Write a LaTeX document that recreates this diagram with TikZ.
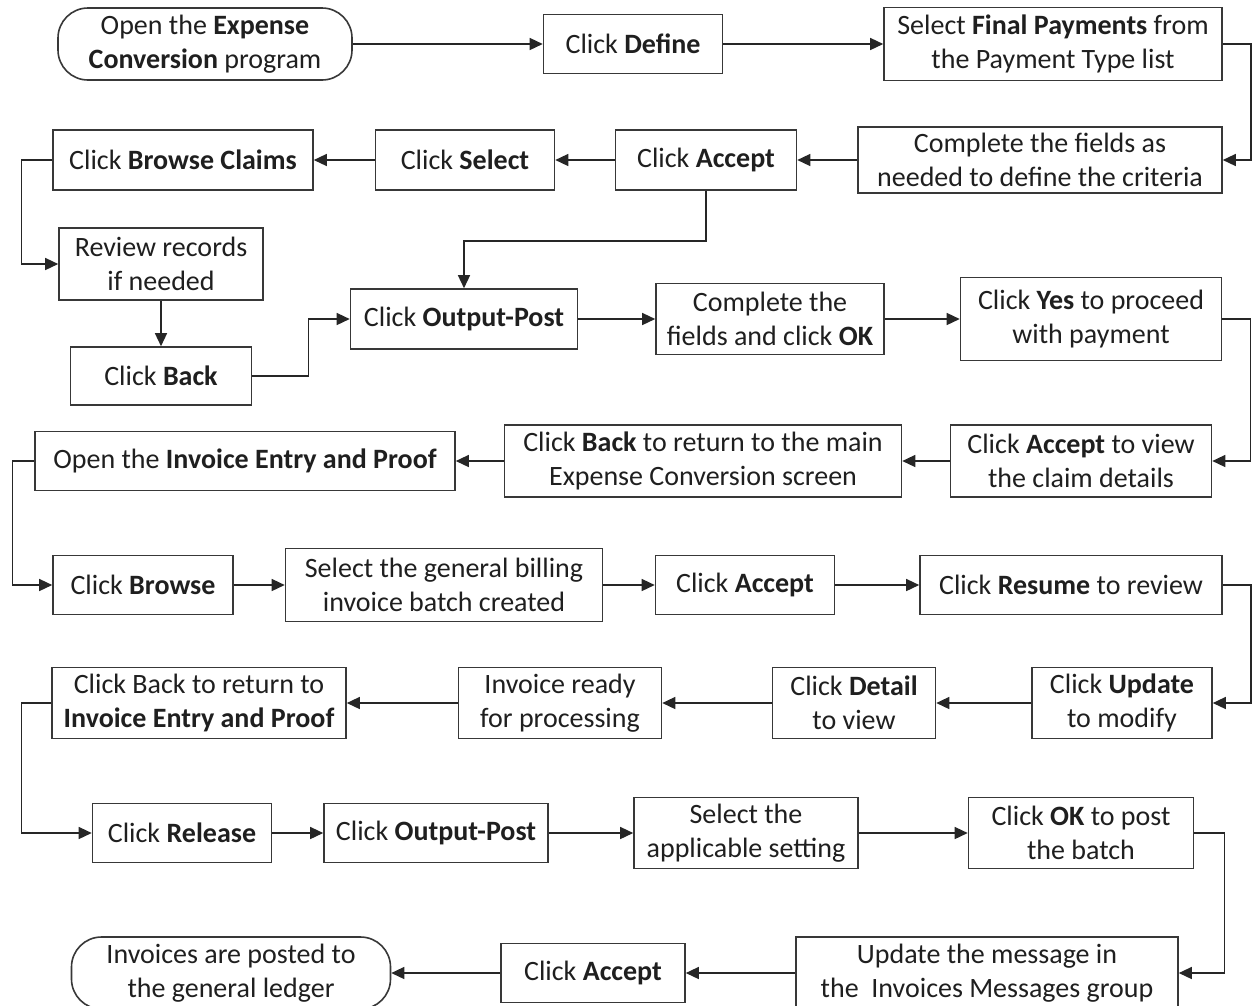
\documentclass[tikz,border=0pt]{standalone}
\usepackage{fontspec}
\setmainfont{Carlito}
\usetikzlibrary{arrows.meta}
\begin{document}
\begin{tikzpicture}[x=1pt,y=-1pt,
  every node/.style={font=\fontsize{28}{33.5}\selectfont, text=black!88},
  box/.style={draw=black!78, line width=1.6pt, fill=white, align=center, inner sep=0pt},
  term/.style={box, rounded corners=30pt},
  flow/.style={draw=black!85, line width=1.4pt, -{Triangle[length=13pt,width=12pt]}},
  line/.style={draw=black!85, line width=1.4pt}]
\useasboundingbox[fill=white] (0,0) rectangle (1252,1005);

% row 1
\node[term, minimum width=294pt, minimum height=72pt] (A) at (205,44) {Open the \textbf{Expense}\\\textbf{Conversion} program};
\node[box, minimum width=179pt, minimum height=59pt] (B) at (633,44) {Click \textbf{Define}};
\node[box, minimum width=338pt, minimum height=73pt] (C) at (1053,44) {Select \textbf{Final Payments} from\\the Payment Type list};

% row 2
\node[box, minimum width=364pt, minimum height=66pt] (D) at (1040,160) {Complete the fields as\\needed to define the criteria};
\node[box, minimum width=181pt, minimum height=60pt] (E) at (706,160) {Click \textbf{Accept}};
\node[box, minimum width=179pt, minimum height=60pt] (F) at (465,160) {Click \textbf{Select}};
\node[box, minimum width=260pt, minimum height=60pt] (G) at (183,160) {Click \textbf{Browse Claims}};

% row 3
\node[box, minimum width=204pt, minimum height=72pt] (H) at (161,264) {Review records\\if needed};
\node[box, minimum width=181pt, minimum height=58pt] (L) at (161,376) {Click \textbf{Back}};
\node[box, minimum width=227pt, minimum height=60pt] (I) at (464,319) {Click \textbf{Output-Post}};
\node[box, minimum width=228pt, minimum height=71pt] (J) at (770,319) {Complete the\\fields and click \textbf{OK}};
\node[box, minimum width=261pt, minimum height=83pt] (K) at (1091,319) {Click \textbf{Yes} to proceed\\with payment};

% row 4
\node[box, minimum width=261pt, minimum height=72pt] (M) at (1081,461) {Click \textbf{Accept} to view\\the claim details};
\node[box, minimum width=397pt, minimum height=72pt] (N) at (703,461) {Click \textbf{Back} to return to the main\\Expense Conversion screen};
\node[box, minimum width=420pt, minimum height=59pt] (O) at (245,461) {Open the \textbf{Invoice Entry and Proof}};

% row 5
\node[box, minimum width=180pt, minimum height=59pt] (P) at (143,585) {Click \textbf{Browse}};
\node[box, minimum width=317pt, minimum height=73pt] (Q) at (444,585) {Select the general billing\\invoice batch created};
\node[box, minimum width=179pt, minimum height=59pt] (R) at (745,585) {Click \textbf{Accept}};
\node[box, minimum width=302pt, minimum height=59pt] (S) at (1071,585) {Click \textbf{Resume} to review};

% row 6
\node[box, minimum width=180pt, minimum height=71pt] (T) at (1122,703) {Click \textbf{Update}\\to modify};
\node[box, minimum width=163pt, minimum height=71pt] (U) at (854,703) {Click \textbf{Detail}\\to view};
\node[box, minimum width=203pt, minimum height=71pt] (V) at (560,703) {Invoice ready\\for processing};
\node[box, minimum width=294pt, minimum height=71pt] (W) at (199,703) {Click Back to return to\\\textbf{Invoice Entry and Proof}};

% row 7
\node[box, minimum width=179pt, minimum height=59pt] (X) at (182,833) {Click \textbf{Release}};
\node[box, minimum width=224pt, minimum height=59pt] (Y) at (436,833) {Click \textbf{Output-Post}};
\node[box, minimum width=224pt, minimum height=71pt] (Z) at (746,833) {Select the\\applicable setting};
\node[box, minimum width=225pt, minimum height=71pt] (AA) at (1081,833) {Click \textbf{OK} to post\\the batch};

% row 8
\node[box, minimum width=382pt, minimum height=72pt] (BB) at (987,973) {Update the message in\\the\ \ Invoices Messages group};
\node[box, minimum width=184pt, minimum height=59pt] (CC) at (593,973) {Click \textbf{Accept}};
\node[term, minimum width=319pt, minimum height=72pt] (DD) at (231,973) {Invoices are posted to\\the general ledger};

% connectors
\draw[flow] (A.east) -- (B.west);
\draw[flow] (B.east) -- (C.west);
\draw[flow] (C.east) -- ++(28,0) |- (D.east);
\draw[flow] (D.west) -- (E.east);
\draw[flow] (E.west) -- (F.east);
\draw[flow] (F.west) -- (G.east);
\draw[flow] (G.west) -- ++(-31,0) |- (H.west);
\draw[flow] (E.south) -- ++(0,50) -| (I.north);
\draw[flow] (H.south) -- (L.north);
\draw[flow] (L.east) -- ++(56,0) |- (I.west);
\draw[flow] (I.east) -- (J.west);
\draw[flow] (J.east) -- (K.west);
\draw[flow] (K.east) -- ++(28,0) |- (M.east);
\draw[flow] (M.west) -- (N.east);
\draw[flow] (N.west) -- (O.east);
\draw[flow] (O.west) -- ++(-22,0) |- (P.west);
\draw[flow] (P.east) -- (Q.west);
\draw[flow] (Q.east) -- (R.west);
\draw[flow] (R.east) -- (S.west);
\draw[flow] (S.east) -- ++(28,0) |- (T.east);
\draw[flow] (T.west) -- (U.east);
\draw[flow] (U.west) -- (V.east);
\draw[flow] (V.west) -- (W.east);
\draw[flow] (W.west) -- ++(-30,0) |- (X.west);
\draw[flow] (X.east) -- (Y.west);
\draw[flow] (Y.east) -- (Z.west);
\draw[flow] (Z.east) -- (AA.west);
\draw[flow] (AA.east) -- ++(30,0) |- (BB.east);
\draw[flow] (BB.west) -- (CC.east);
\draw[flow] (CC.west) -- (DD.east);
\end{tikzpicture}
\end{document}
